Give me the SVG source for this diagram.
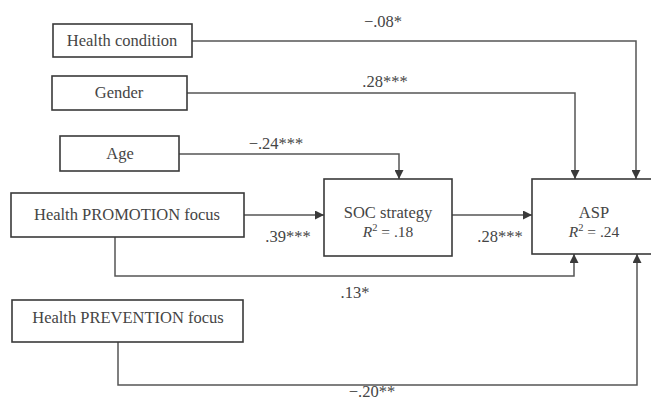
<svg xmlns="http://www.w3.org/2000/svg" width="651" height="402" viewBox="0 0 651 402">
<style>
  .box { fill: #ffffff; stroke: #3a3a3a; stroke-width: 1.6; }
  .lbl { font-family: "Liberation Serif", "Times New Roman", serif; font-size: 16.5px; fill: #454545; text-anchor: middle; }
  .r2 { font-family: "Liberation Serif", "Times New Roman", serif; font-size: 15.5px; fill: #454545; text-anchor: middle; }
  .conn { fill: none; stroke: #555555; stroke-width: 1.5; marker-end: url(#arrow); }
</style>
<defs>
  <marker id="arrow" viewBox="0 0 10 10" refX="10" refY="5" markerWidth="10" markerHeight="9" markerUnits="userSpaceOnUse" orient="auto">
    <path d="M0,0 L10,5 L0,10 Z" fill="#3a3a3a"/>
  </marker>
</defs>
<rect width="651" height="402" fill="#ffffff"/>

<g id="connectors">
  <path class="conn" d="M192,41 H636 V179"/>
  <path class="conn" d="M187,93 H575 V179"/>
  <path class="conn" d="M179,154 H399 V179"/>
  <path class="conn" d="M244,215 H324"/>
  <path class="conn" d="M452,215 H532"/>
  <path class="conn" d="M115,237 V276 H574 V254"/>
  <path class="conn" d="M118,342 V385 H637 V254"/>
  <text class="lbl" x="383" y="27">−.08*</text>
  <text class="lbl" x="385" y="87">.28***</text>
  <text class="lbl" x="276" y="149">−.24***</text>
  <text class="lbl" x="288" y="242">.39***</text>
  <text class="lbl" x="500" y="242">.28***</text>
  <text class="lbl" x="355" y="298">.13*</text>
  <text class="lbl" x="372" y="397">−.20**</text>
</g>

<g id="health-condition">
  <rect class="box" x="53" y="24" width="139" height="33"/>
  <text class="lbl" x="122" y="46">Health condition</text>
</g>
<g id="gender">
  <rect class="box" x="52" y="76" width="135" height="34"/>
  <text class="lbl" x="119" y="98">Gender</text>
</g>
<g id="age">
  <rect class="box" x="60" y="136" width="119" height="35"/>
  <text class="lbl" x="120" y="159">Age</text>
</g>
<g id="promotion">
  <rect class="box" x="11" y="193" width="233" height="44"/>
  <text class="lbl" x="127" y="220">Health PROMOTION focus</text>
</g>
<g id="prevention">
  <rect class="box" x="12" y="300" width="231" height="42"/>
  <text class="lbl" x="128" y="323">Health PREVENTION focus</text>
</g>
<g id="soc">
  <rect class="box" x="324" y="179" width="128" height="77"/>
  <text class="lbl" x="388" y="218">SOC strategy</text>
  <text class="r2" x="388" y="237"><tspan font-style="italic">R</tspan><tspan font-size="10.5" dy="-6">2</tspan><tspan dy="6"> = .18</tspan></text>
</g>
<g id="asp">
  <rect class="box" x="532" y="179" width="122" height="75"/>
  <text class="lbl" x="594" y="218">ASP</text>
  <text class="r2" x="594" y="237"><tspan font-style="italic">R</tspan><tspan font-size="10.5" dy="-6">2</tspan><tspan dy="6"> = .24</tspan></text>
</g>
</svg>
